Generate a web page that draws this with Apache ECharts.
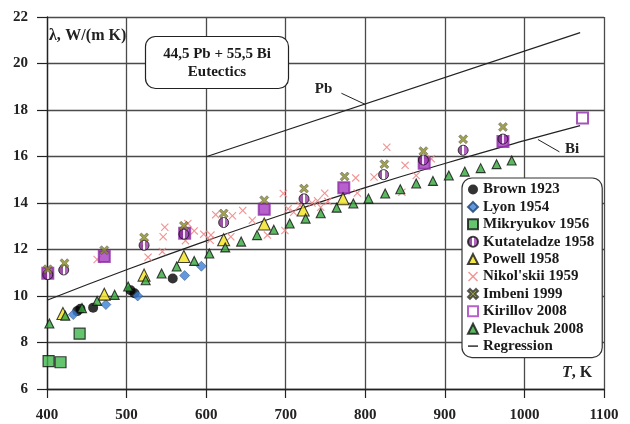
<!DOCTYPE html>
<html>
<head>
<meta charset="utf-8">
<script src="https://cdn.jsdelivr.net/npm/echarts@6/dist/echarts.min.js"></script>
<style>
  html, body { margin: 0; padding: 0; background: #fff; }
  #chart { width: 630px; height: 424px; }
</style>
</head>
<body>
<div id="chart"></div>
<script>
// Thermal conductivity of the 44.5 Pb + 55.5 Bi eutectic: measured data by source, T in K, λ in W/(m K)
const brown1923 = [[438, 9.35], [442, 9.45], [458, 9.5], [505, 10.25], [510, 10.12], [558, 10.75]];
const lyon1954 = [[433, 9.2], [474, 9.63], [514, 10.0], [573, 10.88], [594, 11.28]];
const mikryukov1956 = [[402, 7.2], [417, 7.15], [441, 8.38]];
const kutateladze1958 = [[401, 10.92], [421, 11.12], [522, 12.18], [572, 12.66], [622, 13.16], [723, 14.18], [823, 15.22], [873, 15.85], [923, 16.27], [973, 16.75]];
const powell1958 = [[420, 9.25], [472, 10.08], [522, 10.9], [572, 11.7], [622, 12.42], [673, 13.1], [722, 13.7], [772, 14.18]];
const nikolskii1959 = [[463, 11.57], [523, 12.25], [527, 11.67], [545, 11.91], [546, 12.55], [548, 12.96], [574, 12.38], [577, 13.12],
  [585, 12.8], [597, 12.66], [605, 12.4], [606, 12.62], [612, 13.5], [631, 12.55], [633, 13.45], [646, 13.68], [658, 13.26],
  [677, 12.62], [697, 14.41], [699, 12.82], [703, 13.75], [710, 13.6], [718, 13.9], [733, 14.0], [740, 14.1], [744, 13.82],
  [749, 14.42], [753, 14.07], [788, 15.08], [790, 14.43], [811, 15.12], [827, 16.4], [846, 14.46], [850, 15.62], [864, 15.18], [883, 15.9]];
const imbeni1999 = [[401, 11.15], [422, 11.41], [472, 11.97], [522, 12.52], [572, 13.02], [622, 13.55], [673, 14.12], [723, 14.62],
  [774, 15.14], [824, 15.67], [873, 16.23], [923, 16.74], [973, 17.27]];
const kirillov2008 = [[401, 10.98], [472, 11.7], [573, 12.7], [673, 13.73], [773, 14.66], [874, 15.71], [973, 16.64], [1073, 17.66]];
const plevachuk2008 = [[403, 8.82], [423, 9.15], [444, 9.48], [463, 9.79], [485, 10.05], [502, 10.41], [524, 10.68], [544, 10.97],
  [563, 11.27], [585, 11.51], [604, 11.83], [624, 12.09], [644, 12.34], [664, 12.62], [685, 12.85], [705, 13.12], [725, 13.33],
  [744, 13.56], [764, 13.8], [785, 13.98], [804, 14.19], [825, 14.41], [844, 14.59], [864, 14.84], [885, 14.95], [905, 15.18],
  [925, 15.35], [945, 15.5], [965, 15.67], [984, 15.83]];
// Correlation curves
const regressionCurve = [[400, 9.82], [500, 11.13], [600, 12.37], [700, 13.55], [800, 14.66], [900, 15.7], [1000, 16.68], [1070, 17.33]];
const pbLine = [[600, 15.99], [1070, 21.33]];
// Leader lines for the Pb and Bi captions
const pbLeader = [[770, 18.72], [800, 18.24]];
const biLeader = [[1017, 16.73], [1044, 16.2]];

const xTicks = { min: 400, max: 1100, step: 100 };
const yTicks = { min: 6, max: 22, step: 2 };

const serif = 'Liberation Serif';
const crossBold = 'path://M2,0 L5,3 L8,0 L10,2 L7,5 L10,8 L8,10 L5,7 L2,10 L0,8 L3,5 L0,2 Z';
const crossThin = 'path://M1,0 L5,4 L9,0 L10,1 L6,5 L10,9 L9,10 L5,6 L1,10 L0,9 L4,5 L0,1 Z';
const dash = 'path://M0,4.3 L10,4.3 L10,5.7 L0,5.7 Z';
const halfFill = new echarts.graphic.LinearGradient(0, 0, 1, 0, [
  { offset: 0, color: '#7d2a8c' }, { offset: 0.4, color: '#7d2a8c' },
  { offset: 0.4, color: '#ffffff' }, { offset: 0.6, color: '#ffffff' },
  { offset: 0.6, color: '#a040b0' }, { offset: 1, color: '#a040b0' }
]);

function scatter(name, data, symbol, size, style, z) {
  return { name, type: 'scatter', data, symbol, symbolSize: size, itemStyle: style, z: z || 3 };
}

// Kirillov squares: the highest-temperature point is drawn open
const kirillovItems = kirillov2008.map((p, i) =>
  i === kirillov2008.length - 1 ? { value: p, itemStyle: { color: '#fff' } } : p);

const chart = echarts.init(document.getElementById('chart'), null, { renderer: 'canvas' });

const gridColor = '#4a4a4a';
const axisLabelStyle = {
  margin: 19, fontFamily: serif, fontWeight: 'bold', fontSize: 15, color: '#222',
  formatter: v => String(v)
};

chart.setOption({
  animation: false,
  backgroundColor: '#ffffff',
  textStyle: { fontFamily: serif },
  title: [
    {
      text: '44,5 Pb + 55,5 Bi\nEutectics',
      left: 204, top: 36, textAlign: 'center',
      borderColor: '#222', borderWidth: 1.2, borderRadius: 10,
      backgroundColor: '#fff',
      padding: [9, 13, 8, 13],
      textStyle: { fontFamily: serif, fontWeight: 'bold', fontSize: 15, lineHeight: 18, color: '#1a1a1a', width: 117, align: 'center' }
    },
    {
      text: '{a|λ,} {b|W/(m K)}',
      left: 49, top: 27, padding: 0,
      textStyle: {
        rich: {
          a: { fontFamily: serif, fontSize: 16, color: '#222' },
          b: { fontFamily: serif, fontSize: 16, fontWeight: 'bold', color: '#222' }
        }
      }
    },
    {
      text: '{i|T}{b|, K}',
      left: 562, top: 365, padding: 0,
      textStyle: {
        rich: {
          i: { fontFamily: serif, fontSize: 16, fontWeight: 'bold', fontStyle: 'italic', color: '#222' },
          b: { fontFamily: serif, fontSize: 16, fontWeight: 'bold', color: '#222' }
        }
      }
    }
  ],
  legend: {
    orient: 'vertical',
    left: 462, top: 178,
    padding: [4, 8, 4, 5],
    itemGap: 2.4,
    itemWidth: 10, itemHeight: 10,
    borderColor: '#333', borderWidth: 1.2, borderRadius: 10,
    backgroundColor: '#fff',
    textStyle: { fontFamily: serif, fontWeight: 'bold', fontSize: 15, lineHeight: 15, color: '#1a1a1a' },
    data: [
      'Brown 1923', 'Lyon 1954', 'Mikryukov 1956', 'Kutateladze 1958', 'Powell 1958',
      "Nikol'skii 1959", 'Imbeni 1999',
      { name: 'Kirillov 2008', itemStyle: { color: '#fff', borderColor: '#a53ac0', borderWidth: 2 } },
      'Plevachuk 2008',
      { name: 'Regression', icon: dash, itemStyle: { color: '#222' } }
    ],
    z: 10
  },
  grid: { left: 47, right: 26, top: 17, bottom: 35, containLabel: false },
  xAxis: {
    type: 'value', min: xTicks.min, max: xTicks.max, interval: xTicks.step,
    axisLine: { show: true, lineStyle: { color: '#222', width: 1.3 } },
    axisTick: { show: true, length: 9, lineStyle: { color: '#222', width: 1.2 } },
    axisLabel: axisLabelStyle,
    splitLine: { show: true, lineStyle: { color: gridColor, width: 1.3 } }
  },
  yAxis: {
    type: 'value', min: yTicks.min, max: yTicks.max, interval: yTicks.step,
    axisLine: { show: true, lineStyle: { color: '#222', width: 1.3 } },
    axisTick: { show: true, length: 10, lineStyle: { color: '#222', width: 1.2 } },
    axisLabel: axisLabelStyle,
    splitLine: { show: true, lineStyle: { color: gridColor, width: 1.3 } }
  },
  series: [
    {
      name: 'Pb line', type: 'line', data: pbLine, symbol: 'none',
      lineStyle: { color: '#222', width: 1.2 }, z: 2,
      markLine: {
        silent: true, symbol: ['none', 'none'],
        lineStyle: { color: '#222', width: 1, type: 'solid' },
        label: { show: true, position: 'start', formatter: 'Pb', fontFamily: serif, fontWeight: 'bold', fontSize: 15, color: '#222', distance: 10 },
        data: [[{ coord: pbLeader[0] }, { coord: pbLeader[1] }]]
      }
    },
    {
      name: 'Regression', type: 'line', data: regressionCurve, symbol: 'none', smooth: true,
      lineStyle: { color: '#222', width: 1.2 }, itemStyle: { color: '#222' }, z: 2,
      markLine: {
        silent: true, symbol: ['none', 'none'],
        lineStyle: { color: '#222', width: 1, type: 'solid' },
        label: { show: true, position: 'end', formatter: 'Bi', fontFamily: serif, fontWeight: 'bold', fontSize: 15, color: '#222', distance: 4, offset: [2, -5] },
        data: [[{ coord: biLeader[0] }, { coord: biLeader[1] }]]
      }
    },
    scatter('Nikol\'skii 1959', nikolskii1959, crossThin, 8, { color: '#f08080', opacity: 0.85 }, 3),
    scatter('Brown 1923', brown1923, 'circle', 10, { color: '#000' }, 4),
    scatter('Lyon 1954', lyon1954, 'diamond', 10, { color: '#3b7fd6', borderColor: '#1d3f70', borderWidth: 0.6 }, 4),
    scatter('Mikryukov 1956', mikryukov1956, 'rect', 11, { color: '#3fb54a', borderColor: '#111', borderWidth: 1.2 }, 4),
    scatter('Kirillov 2008', kirillovItems, 'rect', 11, { color: '#a53ac0', borderColor: '#8f2aa8', borderWidth: 2 }, 4),
    scatter('Kutateladze 1958', kutateladze1958, 'circle', 10, { color: halfFill, borderColor: '#111', borderWidth: 1 }, 5),
    scatter('Powell 1958', powell1958, 'triangle', 12, { color: '#f2e21e', borderColor: '#111', borderWidth: 1.1 }, 5),
    scatter('Imbeni 1999', imbeni1999, crossBold, 9, { color: '#8a8a26', borderColor: '#333', borderWidth: 0.5 }, 6),
    scatter('Plevachuk 2008', plevachuk2008, 'triangle', 9, { color: '#33a83a', borderColor: '#111', borderWidth: 1.1 }, 5)
  ]
});
</script>
</body>
</html>
